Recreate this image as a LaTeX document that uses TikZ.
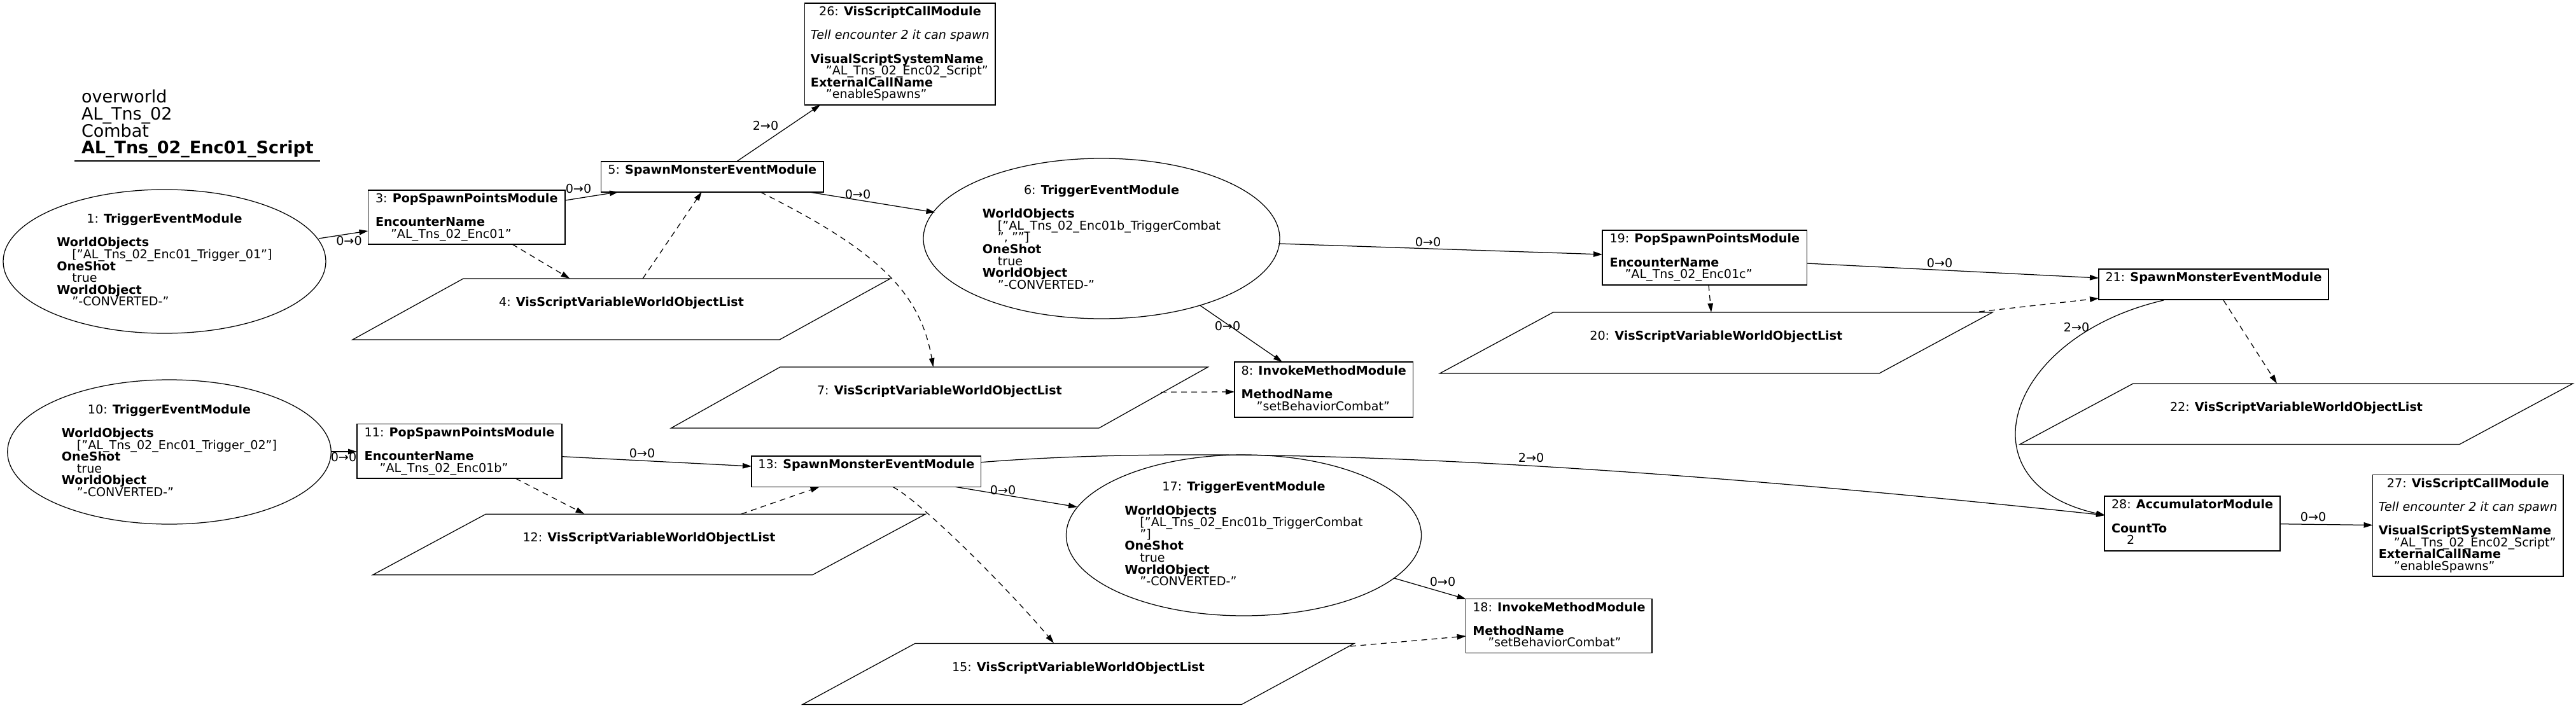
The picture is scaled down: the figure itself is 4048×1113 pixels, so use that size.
\documentclass[tikz,border=0pt]{standalone}
\usepackage{fontspec}
\setmainfont{DejaVu Sans}
\usetikzlibrary{arrows.meta,shapes.geometric}
\newcommand\lbl[1]{\vbox{\lineskiplimit=-\maxdimen\baselineskip=18.6pt\halign{\vrule height 13.8pt depth 4.8pt width 0pt##\unskip\hfil\cr#1\crcr}}}
\newcommand\ind{\kern24pt}
\newcommand\ttl[2]{\hfil#1: \textbf{#2}}
\newcommand\titleblock{\vbox{\lineskiplimit=-\maxdimen\baselineskip=26.7pt\halign{##\unskip\hfil\cr overworld\cr AL\_Tns\_02\cr Combat\cr \textbf{AL\_Tns\_02\_Enc01\_Script}\cr}}}
\begin{document}
\begin{tikzpicture}[x=1pt,y=1pt,
  every node/.style={inner sep=0pt,outer sep=0pt},
  txt/.style={font=\fontsize{19.15}{18.6}\selectfont},
  modbox/.style={txt,draw,line width=1.25pt,rectangle},
  ell/.style={txt,draw,line width=1.25pt,ellipse},
  plg/.style={txt},
  pline/.style={line width=1.25pt,line join=miter},
  flow/.style={line width=1.25pt,-{Triangle[length=14pt,width=8.5pt]}},
  dflow/.style={flow,dash pattern=on 9pt off 7pt},
  elab/.style={txt}]
\useasboundingbox (0,0) rectangle (4048,-1113);

% title
\node[anchor=base west,font=\fontsize{27}{26.7}\selectfont] (title) at (128,-241.7) {\titleblock};
\draw[line width=1.25pt] ([shift={(-11,-11.3)}]title.base west) -- ([shift={(375,-11.3)}]title.base west);

% nodes
\node[ell,minimum width=507pt,minimum height=226pt] (n1) at (258.5,-411)
 {\lbl{\ttl{1}{TriggerEventModule}\cr\cr\textbf{WorldObjects}\cr\ind["AL\_Tns\_02\_Enc01\_Trigger\_01"]\cr\textbf{OneShot}\cr\ind true\cr\textbf{WorldObject}\cr\ind"-CONVERTED-"}};
\node[modbox,minimum width=309.5pt,minimum height=85pt] (n3) at (733.25,-341.5)
 {\lbl{\ttl{3}{PopSpawnPointsModule}\cr\cr\textbf{EncounterName}\cr\ind"AL\_Tns\_02\_Enc01"}};
\node[plg,minimum width=845pt,minimum height=96pt] (n4) at (976.5,-486)
 {\lbl{\ttl{4}{VisScriptVariableWorldObjectList}\cr\cr}};
\node[modbox,minimum width=349.4pt,minimum height=48pt] (n5) at (1119.3,-278)
 {\lbl{\ttl{5}{SpawnMonsterEventModule}\cr\cr}};
\node[modbox,minimum width=299.2pt,minimum height=160pt] (n26) at (1414.4,-85)
 {\lbl{\ttl{26}{VisScriptCallModule}\cr\cr\hfil\textit{Tell encounter 2 it can spawn}\cr\cr\textbf{VisualScriptSystemName}\cr\ind"AL\_Tns\_02\_Enc02\_Script"\cr\textbf{ExternalCallName}\cr\ind"enableSpawns"}};
\node[ell,minimum width=560pt,minimum height=252pt] (n6) at (1731,-375)
 {\lbl{\ttl{6}{TriggerEventModule}\cr\cr\textbf{WorldObjects}\cr\ind["AL\_Tns\_02\_Enc01b\_TriggerCombat\cr\ind", ""]\cr\textbf{OneShot}\cr\ind true\cr\textbf{WorldObject}\cr\ind"-CONVERTED-"}};
\node[plg,minimum width=843.3pt,minimum height=95.8pt] (n7) at (1476.4,-625)
 {\lbl{\ttl{7}{VisScriptVariableWorldObjectList}\cr\cr}};
\node[modbox,minimum width=280.6pt,minimum height=87pt] (n8) at (2080.3,-612.5)
 {\lbl{\ttl{8}{InvokeMethodModule}\cr\cr\textbf{MethodName}\cr\ind"setBehaviorCombat"}};
\node[ell,minimum width=508.5pt,minimum height=227pt] (n10) at (266,-710.5)
 {\lbl{\ttl{10}{TriggerEventModule}\cr\cr\textbf{WorldObjects}\cr\ind["AL\_Tns\_02\_Enc01\_Trigger\_02"]\cr\textbf{OneShot}\cr\ind true\cr\textbf{WorldObject}\cr\ind"-CONVERTED-"}};
\node[modbox,minimum width=322pt,minimum height=85.5pt] (n11) at (722,-709.3)
 {\lbl{\ttl{11}{PopSpawnPointsModule}\cr\cr\textbf{EncounterName}\cr\ind"AL\_Tns\_02\_Enc01b"}};
\node[plg,minimum width=869pt,minimum height=95.7pt] (n12) at (1020,-856)
 {\lbl{\ttl{12}{VisScriptVariableWorldObjectList}\cr\cr}};
\node[modbox,minimum width=360.6pt,minimum height=48.4pt] (n13) at (1361.3,-741.2)
 {\lbl{\ttl{13}{SpawnMonsterEventModule}\cr\cr}};
\node[plg,minimum width=867pt,minimum height=96pt] (n15) at (1694.5,-1059.5)
 {\lbl{\ttl{15}{VisScriptVariableWorldObjectList}\cr\cr}};
\node[ell,minimum width=558pt,minimum height=253pt] (n17) at (1954.5,-841.5)
 {\lbl{\ttl{17}{TriggerEventModule}\cr\cr\textbf{WorldObjects}\cr\ind["AL\_Tns\_02\_Enc01b\_TriggerCombat\cr\ind"]\cr\textbf{OneShot}\cr\ind true\cr\textbf{WorldObject}\cr\ind"-CONVERTED-"}};
\node[modbox,minimum width=292.3pt,minimum height=85pt] (n18) at (2449.9,-984.2)
 {\lbl{\ttl{18}{InvokeMethodModule}\cr\cr\textbf{MethodName}\cr\ind"setBehaviorCombat"}};
\node[modbox,minimum width=321.5pt,minimum height=86pt] (n19) at (2678.8,-405)
 {\lbl{\ttl{19}{PopSpawnPointsModule}\cr\cr\textbf{EncounterName}\cr\ind"AL\_Tns\_02\_Enc01c"}};
\node[plg,minimum width=868.4pt,minimum height=96pt] (n20) at (2696.8,-539)
 {\lbl{\ttl{20}{VisScriptVariableWorldObjectList}\cr\cr}};
\node[modbox,minimum width=361pt,minimum height=48pt] (n21) at (3478.5,-447)
 {\lbl{\ttl{21}{SpawnMonsterEventModule}\cr\cr}};
\node[plg,minimum width=869pt,minimum height=95.5pt] (n22) at (3608.5,-650.75)
 {\lbl{\ttl{22}{VisScriptVariableWorldObjectList}\cr\cr}};
\node[modbox,minimum width=299.5pt,minimum height=159.5pt] (n27) at (3878.25,-826.25)
 {\lbl{\ttl{27}{VisScriptCallModule}\cr\cr\hfil\textit{Tell encounter 2 it can spawn}\cr\cr\textbf{VisualScriptSystemName}\cr\ind"AL\_Tns\_02\_Enc02\_Script"\cr\textbf{ExternalCallName}\cr\ind"enableSpawns"}};
\node[modbox,minimum width=276pt,minimum height=86pt] (n28) at (3445,-823)
 {\lbl{\ttl{28}{AccumulatorModule}\cr\cr\textbf{CountTo}\cr\ind 2}};

% parallelogram outlines
\draw[pline] ([xshift=174pt]n4.north west) -- (n4.north east) -- ([xshift=-174pt]n4.south east) -- (n4.south west) -- cycle;
\draw[pline] ([xshift=171pt]n7.north west) -- (n7.north east) -- ([xshift=-171pt]n7.south east) -- (n7.south west) -- cycle;
\draw[pline] ([xshift=178pt]n12.north west) -- (n12.north east) -- ([xshift=-178pt]n12.south east) -- (n12.south west) -- cycle;
\draw[pline] ([xshift=177pt]n15.north west) -- (n15.north east) -- ([xshift=-177pt]n15.south east) -- (n15.south west) -- cycle;
\draw[pline] ([xshift=178pt]n20.north west) -- (n20.north east) -- ([xshift=-178pt]n20.south east) -- (n20.south west) -- cycle;
\draw[pline] ([xshift=178pt]n22.north west) -- (n22.north east) -- ([xshift=-178pt]n22.south east) -- (n22.south west) -- cycle;

% connectors
\draw[flow] ([shift={(242.2,36)}]n1.center) -- ([shift={(-154.75,-21.5)}]n3.center);
\draw[flow] ([shift={(154.75,26.5)}]n3.center) -- ([shift={(-147.3,-23.7)}]n5.center);
\draw[dflow] ([shift={(71.75,-42.5)}]n3.center) -- ([shift={(-81,48)}]n4.center);
\draw[dflow] ([shift={(33.5,48)}]n4.center) -- ([shift={(-16.6,-23.7)}]n5.center);
\draw[flow] ([shift={(152.4,-24)}]n5.center) -- ([shift={(-261.5,41)}]n6.center);
\draw[dflow] ([shift={(75.7,-24)}]n5.center) .. controls (1375,-392) and (1446,-457) .. ([shift={(-9.9,48)}]n7.center);
\draw[flow] ([shift={(38.7,24.4)}]n5.center) -- ([shift={(-125.4,-80)}]n26.center);
\draw[dflow] ([shift={(347.6,8.6)}]n7.center) -- ([shift={(-140.3,-3.5)}]n8.center);
\draw[flow] ([shift={(154.6,-105)}]n6.center) -- ([shift={(-65.3,43.5)}]n8.center);
\draw[flow] ([shift={(278,-8)}]n6.center) -- ([shift={(-160.8,5)}]n19.center);
\draw[dflow] ([shift={(6.2,-43)}]n19.center) -- ([shift={(-7.8,48)}]n20.center);
\draw[flow] ([shift={(160.7,-9)}]n19.center) -- ([shift={(-180.5,10)}]n21.center);
\draw[dflow] ([shift={(413.2,49)}]n20.center) -- ([shift={(-180.5,-22)}]n21.center);
\draw[dflow] ([shift={(15.5,-25)}]n21.center) -- ([shift={(-30.5,47.75)}]n22.center);
\draw[flow] ([shift={(-78.5,-25)}]n21.center) .. controls (3150,-530) and (3080,-760) .. ([shift={(-137,13)}]n28.center);
\draw[flow] ([shift={(138,-0.7)}]n28.center) -- ([shift={(-149.75,0.75)}]n27.center);
\draw[flow] ([shift={(254,0.5)}]n10.center) -- ([shift={(-161,-0.7)}]n11.center);
\draw[dflow] ([shift={(88,-42.7)}]n11.center) -- ([shift={(-101.5,48)}]n12.center);
\draw[flow] ([shift={(161,-8.4)}]n11.center) -- ([shift={(-180.3,8.2)}]n13.center);
\draw[dflow] ([shift={(145,48)}]n12.center) -- ([shift={(-73.7,-24.2)}]n13.center);
\draw[flow] ([shift={(140.3,-24.2)}]n13.center) -- ([shift={(-261.5,44.5)}]n17.center);
\draw[dflow] ([shift={(41.7,-24.2)}]n13.center) .. controls (1450,-790) and (1592,-934) .. ([shift={(-38.5,48.5)}]n15.center);
\draw[dflow] ([shift={(427.5,43.5)}]n15.center) -- ([shift={(-146.2,-15.8)}]n18.center);
\draw[flow] ([shift={(236.5,-67.5)}]n17.center) -- ([shift={(-146.2,42.5)}]n18.center);
\draw[flow] ([shift={(180.3,14.5)}]n13.center) .. controls (2000,-690) and (2700,-745) .. ([shift={(-137,13)}]n28.center);

% connector labels
\node[elab] (l1) at (548.5,-378.5) {0→0};
\node[elab] (l2) at (909,-296.5) {0→0};
\node[elab] (l3) at (1348,-306) {0→0};
\node[elab] (l4) at (1203,-198) {2→0};
\node[elab] (l5) at (1929,-513) {0→0};
\node[elab] (l6) at (2244,-381) {0→0};
\node[elab] (l7) at (3048,-414) {0→0};
\node[elab] (l8) at (3263,-515) {2→0};
\node[elab] (l9) at (3635,-813) {0→0};
\node[elab] (l10) at (540,-718.8) {0→0};
\node[elab] (l11) at (1009,-713) {0→0};
\node[elab] (l12) at (1576,-771) {0→0};
\node[elab] (l13) at (2267,-915) {0→0};
\node[elab] (l14) at (2406,-720) {2→0};
\end{tikzpicture}
\end{document}
